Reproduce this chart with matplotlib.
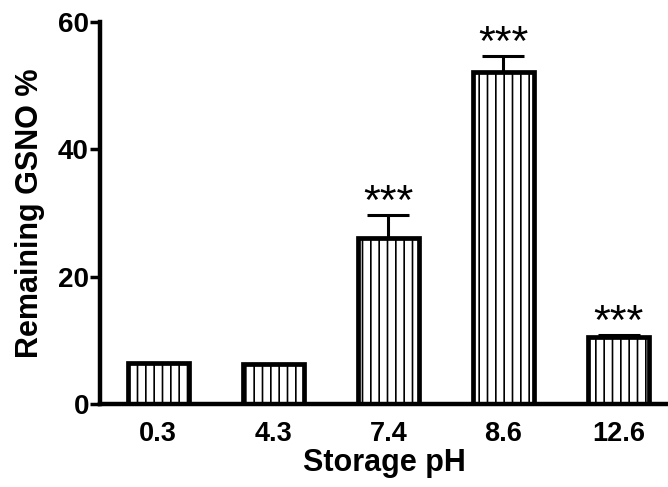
import matplotlib
matplotlib.use("Agg")
import matplotlib.pyplot as plt
import numpy as np

categories = ["0.3", "4.3", "7.4", "8.6", "12.6"]
values = [6.5, 6.3, 26.0, 52.1, 10.6]
errors = [0.0, 0.0, 3.7, 2.6, 0.3]
significance = ["", "", "***", "***", "***"]

plt.rcParams['font.family'] = ['Liberation Sans', 'DejaVu Sans']
plt.rcParams['hatch.linewidth'] = 1.2

fig = plt.figure(figsize=(6.68, 4.87), dpi=100)
ax = fig.add_axes([100/668, 1-404/487, 568/668, 382/487])

x = np.arange(len(categories))
ax.bar(x, values, width=0.53, color='white', edgecolor='black',
       linewidth=3.4, hatch='||', zorder=2)
ax.errorbar(x, values, yerr=[np.zeros(len(errors)), errors], fmt='none',
            ecolor='black', elinewidth=2.2, capsize=15, capthick=2.2, zorder=1)

for xi, v, e, s in zip(x, values, errors, significance):
    if s:
        ax.text(xi, v + e - 1.3, s, ha='center', va='bottom', fontsize=31)

ax.set_xlim(-0.505, 4.43)
ax.set_ylim(0, 60)
ax.set_yticks([0, 20, 40, 60])
ax.set_xticks(x)
ax.set_xticklabels(categories)
for sp in ['top', 'right']:
    ax.spines[sp].set_visible(False)
for sp in ['left', 'bottom']:
    ax.spines[sp].set_linewidth(3.2)
ax.spines['left'].set_bounds(0, 60)
ax.tick_params(axis='y', direction='out', length=7, width=2.5, labelsize=20, pad=1)
ax.tick_params(axis='x', length=0, labelsize=19.5, pad=12)
for lab in ax.get_xticklabels() + ax.get_yticklabels():
    lab.set_fontweight('bold')
ax.set_xlabel("Storage pH", fontsize=22, fontweight='bold', labelpad=1)
ax.set_ylabel("Remaining GSNO %", fontsize=22, fontweight='bold', labelpad=9.5)

fig.savefig("out.png", dpi=100)
